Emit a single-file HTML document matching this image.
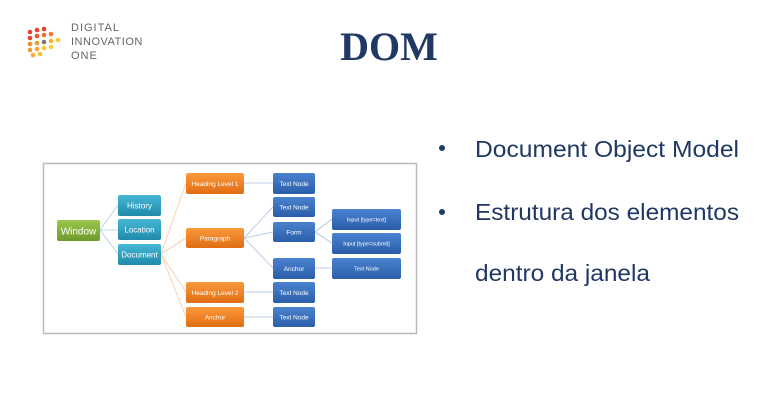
<!DOCTYPE html>
<html><head><meta charset="utf-8"><style>
html,body{margin:0;padding:0;background:#fff;width:782px;height:418px;overflow:hidden}
svg{display:block}
</style></head><body>
<svg width="782" height="418" viewBox="0 0 782 418" xmlns="http://www.w3.org/2000/svg" font-family="Liberation Sans, sans-serif">
<defs>
<linearGradient id="g" x1="0" y1="0" x2="0" y2="1"><stop offset="0" stop-color="#9cc64e"/><stop offset="1" stop-color="#6e9a2c"/></linearGradient>
<linearGradient id="c" x1="0" y1="0" x2="0" y2="1"><stop offset="0" stop-color="#45b8d6"/><stop offset="1" stop-color="#2189aa"/></linearGradient>
<linearGradient id="o" x1="0" y1="0" x2="0" y2="1"><stop offset="0" stop-color="#fb9a3c"/><stop offset="1" stop-color="#e06d12"/></linearGradient>
<linearGradient id="b" x1="0" y1="0" x2="0" y2="1"><stop offset="0" stop-color="#4a82cf"/><stop offset="1" stop-color="#2b5ea9"/></linearGradient>
</defs>
<!-- logo -->
<g>
<circle cx="30" cy="32" r="2.3" fill="#e8412c"/><circle cx="37" cy="30" r="2.3" fill="#e8412c"/><circle cx="44" cy="29" r="2.3" fill="#e8412c"/>
<circle cx="30" cy="38" r="2.3" fill="#e8412c"/><circle cx="37" cy="36" r="2.3" fill="#ea5a2c"/><circle cx="44" cy="35" r="2.3" fill="#ee6d2c"/><circle cx="51" cy="34" r="2.3" fill="#ef7a2c"/>
<circle cx="30" cy="44" r="2.3" fill="#f08a2c"/><circle cx="37" cy="43" r="2.3" fill="#f19a2c"/><circle cx="44" cy="42" r="2.3" fill="#777"/><circle cx="51" cy="41" r="2.3" fill="#f6b52c"/><circle cx="58" cy="40" r="2.3" fill="#f8c82c"/>
<circle cx="30" cy="50" r="2.3" fill="#f19a2c"/><circle cx="37" cy="49" r="2.3" fill="#f4aa2c"/><circle cx="44" cy="48" r="2.3" fill="#f8c52c"/><circle cx="51" cy="47" r="2.3" fill="#f9d02c"/>
<circle cx="33" cy="55" r="2.3" fill="#f4aa2c"/><circle cx="40" cy="54" r="2.3" fill="#f8c52c"/>
<text x="71" y="31" font-size="11" fill="#666" letter-spacing="1">DIGITAL</text>
<text x="71" y="45" font-size="11" fill="#666" letter-spacing="0.5">INNOVATION</text>
<text x="71" y="59" font-size="11" fill="#666" letter-spacing="1">ONE</text>
</g>
<text x="389" y="60" text-anchor="middle" font-family="Liberation Serif, serif" font-weight="bold" font-size="40" fill="#1f3864">DOM</text>
<!-- bullets -->
<g fill="#1f3864" font-size="23">
<circle cx="442" cy="148" r="3"/><circle cx="442" cy="212" r="3"/>
<text x="475" y="157" textLength="264" lengthAdjust="spacingAndGlyphs">Document Object Model</text>
<text x="475" y="220" textLength="264" lengthAdjust="spacingAndGlyphs">Estrutura dos elementos</text>
<text x="475" y="281" textLength="175" lengthAdjust="spacingAndGlyphs">dentro da janela</text>
</g>
<!-- diagram frame -->
<rect x="43.5" y="163.5" width="373" height="170" fill="#fff" stroke="#bbb" stroke-width="1.5"/>
<g fill="none" stroke-width="0.8">
<g stroke="#a9cfe6">
<path d="M100 230 L118 205 M100 230 L118 230 M100 230 L118 254"/>
</g>
<g stroke="#f8c9a0">
<path d="M161 254 L186 183 M161 254 L186 238 M161 254 L186 292 M161 254 L186 317"/>
</g>
<g stroke="#a9c0e0">
<path d="M244 183 L273 183 M244 238 L273 207 M244 238 L273 232 M244 238 L273 268 M244 292 L273 292 M244 317 L273 317 M315 232 L332 219 M315 232 L332 243 M315 268 L332 268"/>
</g>
</g>
<g font-size="8" fill="#fff" text-anchor="middle">
<rect x="57" y="220" width="43" height="21" rx="2" fill="url(#g)"/><text x="78.5" y="234.5" font-size="10">Window</text>
<rect x="118" y="195" width="43" height="21" rx="2" fill="url(#c)"/><text x="139.5" y="208.5">History</text>
<rect x="118" y="219" width="43" height="21" rx="2" fill="url(#c)"/><text x="139.5" y="232.5">Location</text>
<rect x="118" y="244" width="43" height="21" rx="2" fill="url(#c)"/><text x="139.5" y="257.5">Document</text>
<g font-size="6.5">
<rect x="186" y="173" width="58" height="21" rx="2" fill="url(#o)"/><text x="215" y="186">Heading Level 1</text>
<rect x="186" y="228" width="58" height="20" rx="2" fill="url(#o)"/><text x="215" y="240.5">Paragraph</text>
<rect x="186" y="282" width="58" height="21" rx="2" fill="url(#o)"/><text x="215" y="295">Heading Level 2</text>
<rect x="186" y="307" width="58" height="20" rx="2" fill="url(#o)"/><text x="215" y="319.5">Anchor</text>
<rect x="273" y="173" width="42" height="21" rx="2" fill="url(#b)"/><text x="294" y="186">Text Node</text>
<rect x="273" y="197" width="42" height="20" rx="2" fill="url(#b)"/><text x="294" y="209.5">Text Node</text>
<rect x="273" y="222" width="42" height="20" rx="2" fill="url(#b)"/><text x="294" y="234.5">Form</text>
<rect x="273" y="258" width="42" height="21" rx="2" fill="url(#b)"/><text x="294" y="271">Anchor</text>
<rect x="273" y="282" width="42" height="21" rx="2" fill="url(#b)"/><text x="294" y="295">Text Node</text>
<rect x="273" y="307" width="42" height="20" rx="2" fill="url(#b)"/><text x="294" y="319.5">Text Node</text>
</g>
<g font-size="5.5">
<rect x="332" y="209" width="69" height="21" rx="2" fill="url(#b)"/><text x="366.5" y="221.5">Input [type=text]</text>
<rect x="332" y="233" width="69" height="21" rx="2" fill="url(#b)"/><text x="366.5" y="245.5">Input [type=submit]</text>
<rect x="332" y="258" width="69" height="21" rx="2" fill="url(#b)"/><text x="366.5" y="270.5">Text Node</text>
</g>
</g>
</svg>
</body></html>
